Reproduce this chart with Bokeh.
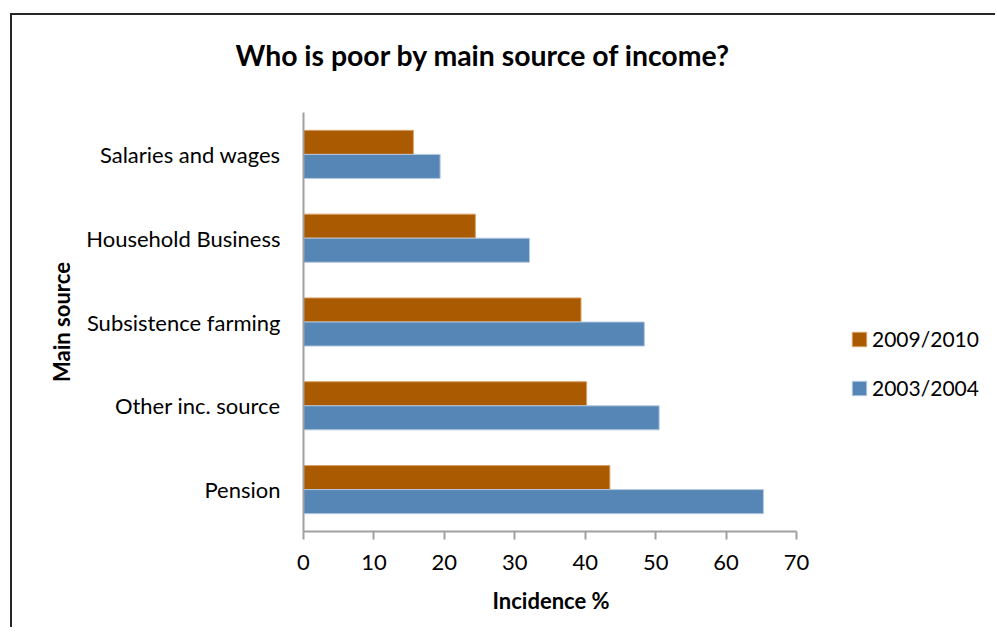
from bokeh.plotting import figure
from bokeh.models import (ColumnDataSource, FactorRange, Range1d, FixedTicker,
                          Legend, LegendItem, Title)
from bokeh.transform import dodge
from bokeh.embed import file_html
from bokeh.resources import INLINE

# ---- data ----
categories = ["Salaries and wages", "Household Business", "Subsistence farming",
              "Other inc. source", "Pension"]
incidence_2009_2010 = [15.6, 24.4, 39.4, 40.2, 43.5]
incidence_2003_2004 = [19.4, 32.1, 48.4, 50.5, 65.3]
series_names = ["2009/2010", "2003/2004"]
x_ticks = [0, 10, 20, 30, 40, 50, 60, 70]

FONT = "Lato"
ORANGE = "#AA5A00"
BLUE = "#5586B5"
AXIS = "#A0A0A0"

# layout: the value axis spans AXIS_W px; the frame extends further right
AXIS_W = 493
FRAME_W = 680
FRAME_H = 419
x_end = x_ticks[-1] * FRAME_W / AXIS_W

source = ColumnDataSource(dict(cat=categories,
                               v1=incidence_2009_2010,
                               v2=incidence_2003_2004))

p = figure(frame_width=FRAME_W, frame_height=FRAME_H,
           y_range=FactorRange(factors=categories[::-1]),
           x_range=Range1d(0, x_end),
           output_backend="svg", toolbar_location=None,
           min_border_left=291, min_border_right=12,
           min_border_top=97, min_border_bottom=0)

p.styles = {"margin-left": "10px", "margin-top": "13px",
            "border-left": "2px solid #262626", "border-top": "2px solid #262626"}

bar_h = 0.287
r1 = p.hbar(y=dodge("cat", bar_h / 2, range=p.y_range), left=0, right="v1",
            height=bar_h, source=source, fill_color=ORANGE,
            line_color="#D9A066", line_width=1)
r2 = p.hbar(y=dodge("cat", -bar_h / 2, range=p.y_range), left=0, right="v2",
            height=bar_h, source=source, fill_color=BLUE,
            line_color="#B4C8E0", line_width=1)

legend = Legend(items=[LegendItem(label=series_names[0], renderers=[r1]),
                       LegendItem(label=series_names[1], renderers=[r2])],
                location=(547, 131), glyph_width=18, glyph_height=18,
                label_standoff=4, spacing=24, padding=0, margin=0,
                label_height=24, border_line_color=None,
                background_fill_alpha=0, label_text_font=FONT,
                label_text_font_size="21px", label_text_color="#000000")
p.add_layout(legend)

# title: a thin spacer next to the frame, then the title text above it
spacer = Title(text=" ", text_font_size="1px", standoff=16)
p.add_layout(spacer, "above")
main_title = Title(text="Who is poor by main source of income?", align="left",
                   vertical_align="top", standoff=40, offset=-68,
                   text_font=FONT, text_font_size="28.4px",
                   text_font_style="bold", text_color="#000000")
p.add_layout(main_title, "above")

xlabel = Title(text="Incidence %", align="left", vertical_align="middle",
               offset=189, standoff=26, text_font=FONT, text_font_size="22px",
               text_font_style="bold", text_color="#000000")
p.add_layout(xlabel, "below")

p.xgrid.visible = False
p.ygrid.visible = False
p.outline_line_color = None

xa = p.xaxis[0]
xa.ticker = FixedTicker(ticks=x_ticks)
xa.bounds = (x_ticks[0], x_ticks[-1])
xa.major_label_text_font = FONT
xa.major_label_text_font_size = "22px"
xa.major_label_text_color = "#000000"
xa.major_label_standoff = 15
xa.major_tick_out = 8
xa.major_tick_in = 0
xa.minor_tick_out = 0
xa.minor_tick_in = 0
xa.axis_line_color = AXIS
xa.axis_line_width = 2
xa.major_tick_line_color = AXIS
xa.major_tick_line_width = 2

ya = p.yaxis[0]
ya.axis_label = "Main source"
ya.axis_label_text_font = FONT
ya.axis_label_text_font_size = "22px"
ya.axis_label_text_font_style = "bold"
ya.axis_label_text_color = "#000000"
ya.axis_label_standoff = 8
ya.major_label_text_font = FONT
ya.major_label_text_font_size = "22px"
ya.major_label_text_color = "#000000"
ya.major_label_standoff = 23
ya.major_tick_out = 0
ya.major_tick_in = 0
ya.axis_line_color = AXIS
ya.axis_line_width = 2

open("out.html", "w").write(file_html(p, INLINE))
